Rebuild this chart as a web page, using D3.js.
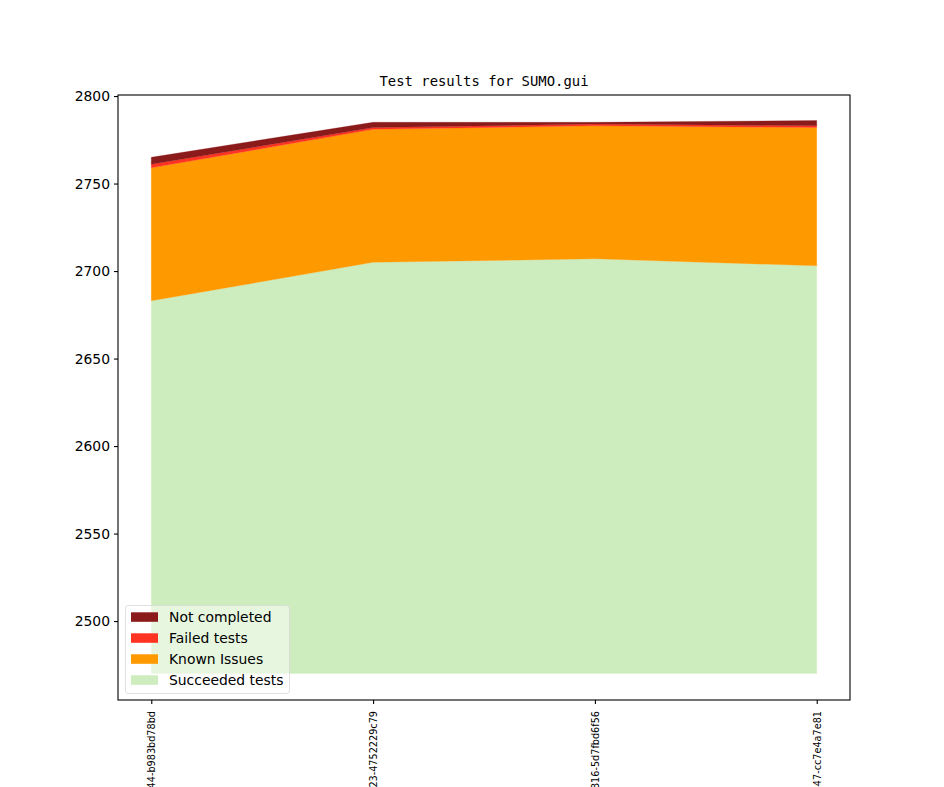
<!DOCTYPE html>
<html>
<head>
<meta charset="utf-8">
<script src="https://cdn.jsdelivr.net/npm/d3@7"></script>
<style>
  html, body { margin: 0; padding: 0; background: #fff; }
  svg { display: block; }
</style>
</head>
<body>
<svg id="chart" width="944" height="787"></svg>
<script>
// ---- data ----
const revisions = [
  "v1_19_0+0744-b983bd78bd",
  "v1_19_0+0823-4752229c79",
  "v1_19_0+1316-5d7fbd6f56",
  "v1_19_0+1447-cc7e4a7e81"
];
const succeeded   = [2683, 2705, 2707, 2703];
const knownIssues = [76, 76, 76, 79];
const failed      = [2, 1, 1, 1];
const notCompleted = [4, 3, 1, 3];
const seriesNames = ["Succeeded tests", "Known Issues", "Failed tests", "Not completed"];
const seriesColors = ["#ceedbe", "#ff9900", "#ff3322", "#8b1a1a"];
const yTicks = [2500, 2550, 2600, 2650, 2700, 2750, 2800];
const baseline = 2470;
const title = "Test results for SUMO.gui";

// ---- layout ----
const svg = d3.select("#chart");
const L = 118, R = 850, T = 95, B = 700;

const x = d3.scaleLinear().domain([-0.15, revisions.length - 1 + 0.15]).range([L, R]);
const y = d3.scaleLinear().domain([2454.9, 2800.6]).range([B, T]);

const table = revisions.map((r, i) => ({
  i,
  "Succeeded tests": succeeded[i] - baseline,
  "Known Issues": knownIssues[i],
  "Failed tests": failed[i],
  "Not completed": notCompleted[i]
}));

const stack = d3.stack().keys(seriesNames)
  .offset((series, order) => {
    for (let j = 0; j < series[0].length; j++) {
      let s = baseline;
      for (let k = 0; k < order.length; k++) {
        const d = series[order[k]][j];
        const v = d[1] - d[0];
        d[0] = s; d[1] = s + v; s += v;
      }
    }
  });
const stacked = stack(table);

const clipId = "plotclip";
svg.append("defs").append("clipPath").attr("id", clipId)
  .append("rect").attr("x", L).attr("y", T).attr("width", R - L).attr("height", B - T);

const area = d3.area()
  .x(d => x(d.data.i))
  .y0(d => y(d[0]))
  .y1(d => y(d[1]));

svg.append("g").attr("clip-path", `url(#${clipId})`)
  .selectAll("path").data(stacked).join("path")
  .attr("d", area)
  .attr("fill", (d, k) => seriesColors[k])
  .attr("stroke", (d, k) => seriesColors[k])
  .attr("stroke-width", 0.3);

// spines
svg.append("rect").attr("x", L).attr("y", T).attr("width", R - L).attr("height", B - T)
  .attr("fill", "none").attr("stroke", "#000").attr("stroke-width", 1.1);

// y axis
const yAxis = d3.axisLeft(y).tickValues(yTicks).tickSize(4).tickPadding(4).tickFormat(d3.format("d"));
const gy = svg.append("g").attr("transform", `translate(${L},0)`).call(yAxis);
gy.select(".domain").remove();
gy.selectAll("line").attr("stroke", "#000").attr("stroke-width", 1.1);
gy.selectAll("text").attr("font-family", "DejaVu Sans").attr("font-size", "13.9px").attr("fill", "#000");

// x axis
const xAxis = d3.axisBottom(x).tickValues(revisions.map((r, i) => i)).tickSize(4).tickFormat(i => revisions[i]);
const gx = svg.append("g").attr("transform", `translate(0,${B})`).call(xAxis);
gx.select(".domain").remove();
gx.selectAll("line").attr("stroke", "#000").attr("stroke-width", 1.1);
gx.selectAll("text")
  .attr("font-family", "DejaVu Sans").attr("font-size", "9.7px").attr("fill", "#000")
  .attr("transform", "rotate(-90)")
  .attr("text-anchor", "end")
  .attr("x", -11).attr("y", 0).attr("dy", "0.35em");

// title
svg.append("text").attr("x", (L + R) / 2).attr("y", 86)
  .attr("text-anchor", "middle").attr("font-family", "DejaVu Sans Mono")
  .attr("font-size", "13.9px").attr("fill", "#000").text(title);

// legend (reverse order)
const lg = svg.append("g");
lg.append("rect").attr("x", 125.5).attr("y", 605.5).attr("width", 164).attr("height", 88)
  .attr("rx", 3).attr("fill", "#fff").attr("fill-opacity", 0.5)
  .attr("stroke", "#d8d8d8").attr("stroke-opacity", 0.8).attr("stroke-width", 1);
const legendOrder = [3, 2, 1, 0];
legendOrder.forEach((k, j) => {
  const cy = 617 + j * 21;
  lg.append("rect").attr("x", 131).attr("y", cy - 4.7).attr("width", 27).attr("height", 9.5)
    .attr("fill", seriesColors[k]);
  lg.append("text").attr("x", 169).attr("y", cy).attr("dy", "0.36em")
    .attr("font-family", "DejaVu Sans").attr("font-size", "13.9px").attr("fill", "#000")
    .text(seriesNames[k]);
});
</script>
</body>
</html>
